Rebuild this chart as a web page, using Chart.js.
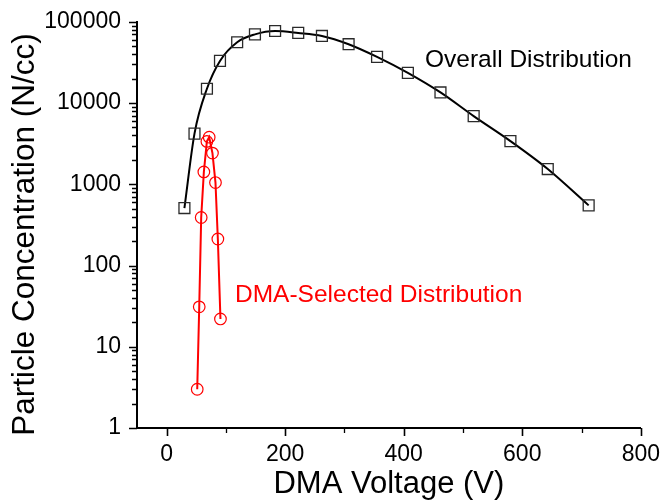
<!DOCTYPE html>
<html>
<head>
<meta charset="utf-8">
<script src="https://cdn.jsdelivr.net/npm/chart.js@4/dist/chart.umd.min.js"></script>
<style>
  html, body { margin: 0; padding: 0; background: #fff; }
  #c { display: block; }
</style>
</head>
<body>
<canvas id="c" width="665" height="502"></canvas>
<script>
// ---- data ----
const overallX = [30, 47, 68, 90, 119, 149, 183, 222, 262, 307, 355, 407, 462, 518, 580, 643, 712];
const overallY = [510, 4200, 15000, 33000, 56000, 70000, 77000, 73000, 67000, 53000, 37000, 23500, 13500, 6900, 3400, 1540, 550];

const dmaX = [51.6, 55, 58.3, 62.8, 67.9, 71.8, 77.3, 82.4, 86.4, 90.8];
const dmaY = [3.0, 31, 390, 1420, 3370, 3800, 2420, 1050, 212, 22];

const xMajorTicks = [0, 200, 400, 600, 800];
const xMinorTicks = [100, 300, 500, 700];
const yMajorTicks = [1, 10, 100, 1000, 10000, 100000];

const xTitle = 'DMA Voltage (V)';
const yTitle = 'Particle Concentration (N/cc)';
const overallLabel = 'Overall Distribution';
const dmaLabel = 'DMA-Selected Distribution';

// ---- build ----
const FONT = "'Liberation Sans', Arial, Helvetica, sans-serif";
const toPts = (xs, ys) => xs.map((x, i) => ({ x: x, y: ys[i] }));

// minor ticks for log axis: 2..9 within each decade
const yMinorTicks = [];
for (let i = 0; i < yMajorTicks.length - 1; i++) {
  for (let m = 2; m <= 9; m++) yMinorTicks.push(yMajorTicks[i] * m);
}

const decorPlugin = {
  id: 'decor',
  afterDraw(chart) {
    const ctx = chart.ctx;
    const xs = chart.scales.x, ys = chart.scales.y;
    const area = chart.chartArea;
    ctx.save();
    ctx.strokeStyle = '#000';
    ctx.lineWidth = 1.6;
    ctx.beginPath();
    yMajorTicks.forEach(v => {
      const p = Math.round(ys.getPixelForValue(v)) + 0.5;
      ctx.moveTo(area.left, p); ctx.lineTo(area.left - 8, p);
    });
    xMajorTicks.forEach(v => {
      const p = Math.round(xs.getPixelForValue(v)) + 0.5;
      ctx.moveTo(p, area.bottom); ctx.lineTo(p, area.bottom + 8);
    });
    ctx.stroke();
    ctx.lineWidth = 1.3;
    ctx.beginPath();
    yMinorTicks.forEach(v => {
      const p = Math.round(ys.getPixelForValue(v)) + 0.5;
      ctx.moveTo(area.left, p); ctx.lineTo(area.left - 5, p);
    });
    xMinorTicks.forEach(v => {
      const p = Math.round(xs.getPixelForValue(v)) + 0.5;
      ctx.moveTo(p, area.bottom); ctx.lineTo(p, area.bottom + 5);
    });
    ctx.stroke();

    // annotations
    ctx.textBaseline = 'alphabetic';
    ctx.textAlign = 'left';
    ctx.font = '24.5px ' + FONT;
    ctx.fillStyle = '#000';
    ctx.fillText(overallLabel, 425, 67);
    ctx.fillStyle = '#ff0000';
    ctx.fillText(dmaLabel, 235, 302);

    // y axis title
    ctx.fillStyle = '#000';
    ctx.font = '31.5px ' + FONT;
    ctx.translate(34, 234.5);
    ctx.rotate(-Math.PI / 2);
    ctx.textAlign = 'center';
    ctx.fillText(yTitle, 0, 0);
    ctx.restore();
  }
};

new Chart(document.getElementById('c'), {
  type: 'scatter',
  data: {
    datasets: [
      {
        label: overallLabel,
        data: toPts(overallX, overallY),
        showLine: true,
        borderColor: '#000',
        borderWidth: 2,
        cubicInterpolationMode: 'monotone',
        pointStyle: 'rect',
        pointRadius: 7.7,
        pointHoverRadius: 7.7,
        pointBorderColor: '#2a2a2a',
        pointBackgroundColor: 'rgba(0,0,0,0)',
        pointBorderWidth: 1.3,
        clip: false
      },
      {
        label: dmaLabel,
        data: toPts(dmaX, dmaY),
        showLine: true,
        borderColor: '#ff0000',
        borderWidth: 2,
        tension: 0,
        pointStyle: 'circle',
        pointRadius: 5.8,
        pointHoverRadius: 5.8,
        pointBorderColor: '#ff0000',
        pointBackgroundColor: 'rgba(0,0,0,0)',
        pointBorderWidth: 1.2,
        clip: false
      }
    ]
  },
  options: {
    responsive: false,
    animation: false,
    devicePixelRatio: 1,
    layout: { padding: { top: 20, right: 23, left: 0, bottom: 0 } },
    plugins: { legend: { display: false }, tooltip: { enabled: false } },
    scales: {
      x: {
        type: 'linear',
        min: -50,
        max: 800,
        afterBuildTicks: s => { s.ticks = xMajorTicks.map(v => ({ value: v })); },
        afterFit: s => { s.height = 74; },
        grid: { display: true, drawOnChartArea: false, drawTicks: true, tickLength: 8, tickColor: 'rgba(0,0,0,0)' },
        border: { display: true, color: '#000', width: 2 },
        ticks: {
          color: '#000',
          padding: 5,
          maxRotation: 0,
          font: { family: FONT, size: 23 },
          callback: v => String(v)
        },
        title: {
          display: true,
          text: xTitle,
          color: '#000',
          padding: { top: 0, bottom: 0 },
          font: { family: FONT, size: 31, lineHeight: 1.1 }
        }
      },
      y: {
        type: 'logarithmic',
        min: 1,
        max: 100000,
        afterBuildTicks: s => { s.ticks = yMajorTicks.map(v => ({ value: v, major: true })); },
        afterFit: s => { s.width = 137; },
        grid: { display: true, drawOnChartArea: false, drawTicks: true, tickLength: 8, tickColor: 'rgba(0,0,0,0)' },
        border: { display: true, color: '#000', width: 2 },
        ticks: {
          color: '#000',
          padding: 8,
          font: { family: FONT, size: 23 },
          callback: v => String(v)
        }
      }
    }
  },
  plugins: [decorPlugin]
});
</script>
</body>
</html>
